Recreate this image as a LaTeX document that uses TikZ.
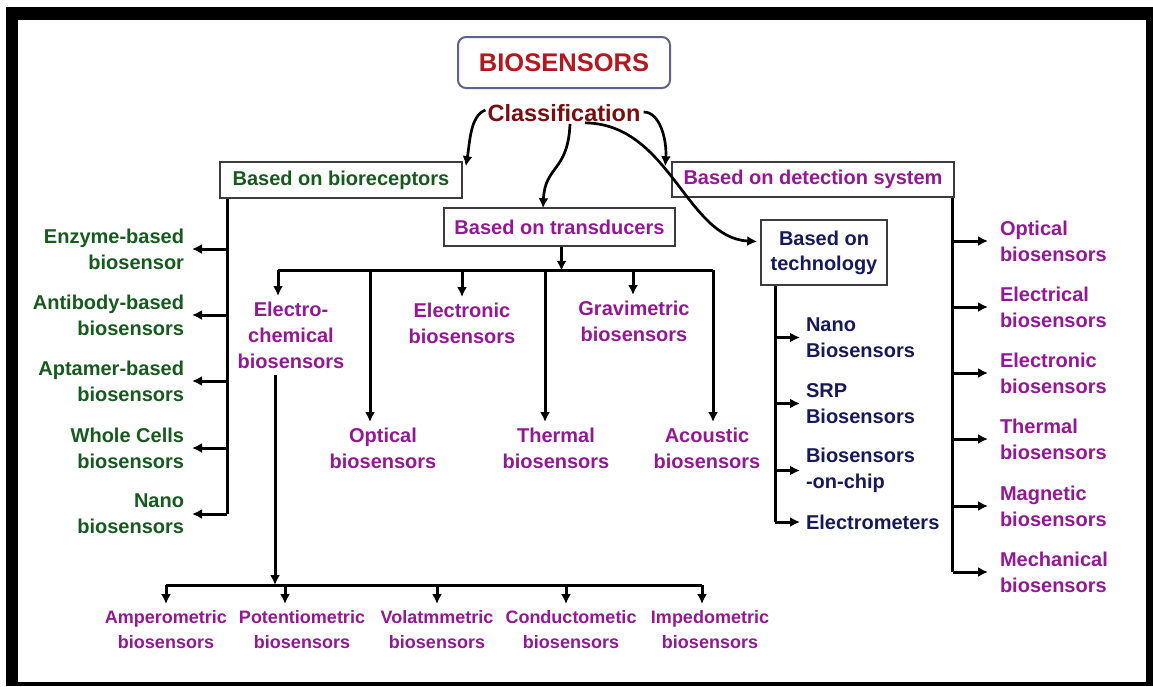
\documentclass[tikz,border=0pt]{standalone}
\usepackage{fontspec}
\setmainfont{Liberation Sans}
\usetikzlibrary{arrows.meta,calc}
\definecolor{titlered}{RGB}{178,24,30}
\definecolor{clsred}{RGB}{120,14,14}
\definecolor{titleframe}{RGB}{95,100,140}
\definecolor{boxgray}{RGB}{60,60,60}
\definecolor{bgreen}{RGB}{22,90,30}
\definecolor{bpurple}{RGB}{148,24,150}
\definecolor{bnavy}{RGB}{22,26,90}
\begin{document}
\begin{tikzpicture}[x=1pt,y=-1pt,
  lbl/.style={inner sep=0pt, font=\fontsize{20}{26}\selectfont\bfseries},
  leftlbl/.style={lbl, text=bgreen, align=right, anchor=east, outer sep=8pt},
  translbl/.style={lbl, text=bpurple, align=center, anchor=north, outer sep=6pt},
  botlbl/.style={inner sep=0pt, font=\fontsize{18}{25}\selectfont\bfseries, text=bpurple, align=center, anchor=north, outer sep=6pt},
  techlbl/.style={lbl, text=bnavy, align=left, anchor=west, outer sep=6pt},
  detlbl/.style={lbl, text=bpurple, align=left, anchor=west, outer sep=12pt},
  catbox/.style={draw=boxgray, line width=1.6pt, fill=white, inner sep=0pt, font=\fontsize{20}{25}\selectfont\bfseries},
  conn/.style={line width=3pt, draw=black},
  arr/.style={conn, -{Latex[length=10pt,width=10pt]}},
  carr/.style={line width=2.7pt, draw=black, -{Latex[length=10pt,width=10pt]}}
]
\useasboundingbox (0,0) rectangle (1153,686);
% frame
\fill[white] (0,0) rectangle (1153,686);
\fill[black] (6,7) rectangle (1153,686);
\fill[white] (18,20) rectangle (1146,682);

% title and classification
\node[draw=titleframe, line width=2pt, rounded corners=8pt, fill=white,
      minimum width=212, minimum height=51, inner sep=0pt,
      font=\fontsize{25.5}{30}\selectfont\bfseries, text=titlered] (title) at (564,62.5) {BIOSENSORS};
\node[inner sep=0pt, font=\fontsize{23.5}{28}\selectfont\bfseries, text=clsred] (cls) at (564,113) {Classification};

% category boxes
\node[catbox, minimum width=242, minimum height=36, text=bgreen] (bio) at (341,180) {Based on bioreceptors};
\node[catbox, minimum width=231, minimum height=38, text=bpurple] (trans) at (559.5,227) {Based on transducers};
\node[catbox, minimum width=282, minimum height=35, text=bpurple] (det) at (813,179.5) {Based on detection system};
\node[catbox, minimum width=126, minimum height=65, text=bnavy, align=center] (tech) at (824,252.5) {Based on\\technology};

% curved arrows from the classification
\draw[carr] ($(cls.west)+(-2,-3)$) .. controls (470,116) and (470,142) .. ($(bio.north east)+(3,5)$);
\draw[carr] ($(cls.south)+(6,2)$) .. controls (568,172) and (545,165) .. ($(trans.north)+(-16.5,1)$);
\draw[carr] ($(cls.east)+(3,-1)$) .. controls (660,112) and (667,140) .. ($(det.north west)+(-6,5)$);
\draw[carr] ($(cls.south)+(21,1)$) .. controls (670,124) and (686,238) .. ($(tech.west)+(-3,-11)$);

% bioreceptor branch
\node[leftlbl] (l1) at (192,249) {Enzyme-based\\biosensor};
\node[leftlbl] (l2) at (192,315) {Antibody-based\\biosensors};
\node[leftlbl] (l3) at (192,381) {Aptamer-based\\biosensors};
\node[leftlbl] (l4) at (192,448) {Whole Cells\\biosensors};
\node[leftlbl] (l5) at (192,514) {Nano\\biosensors};
\coordinate (lt) at ($(bio.south west)+(8,0)$);
\draw[conn] (lt) -- (lt |- l5.east);
\foreach \n in {l1,l2,l3,l4,l5} \draw[arr] (lt |- \n.east) -- (\n.east);

% transducer branch
\node[translbl] (ec) at (291,296) {Electro-\\chemical\\biosensors};
\node[translbl] (eo) at (462,297) {Electronic\\biosensors};
\node[translbl] (gv) at (634,295) {Gravimetric\\biosensors};
\node[translbl] (op) at (383,422) {Optical\\biosensors};
\node[translbl] (th) at (556,422) {Thermal\\biosensors};
\node[translbl] (ac) at (707,422) {Acoustic\\biosensors};
\coordinate (tb) at ($(trans.south)+(2,24)$);
\coordinate (t1) at (278,270);
\coordinate (t2) at (370,270);
\coordinate (t3) at (462,270);
\coordinate (t4) at (545,270);
\coordinate (t5) at (633,270);
\coordinate (t6) at (713,270);
\draw[arr] (trans.south -| tb) -- (tb);
\draw[conn] (t1) -- (t6);
\draw[arr] (t1) -- (t1 |- ec.north);
\draw[arr] (t2) -- (t2 |- op.north);
\draw[arr] (t3) -- (t3 |- eo.north);
\draw[arr] (t4) -- (t4 |- th.north);
\draw[arr] (t5) -- (t5 |- gv.north);
\draw[arr] (t6) -- (t6 |- ac.north);

% electrochemical sub-branch
\node[botlbl] (am) at (166,604) {Amperometric\\biosensors};
\node[botlbl] (po) at (302,604) {Potentiometric\\biosensors};
\node[botlbl] (vo) at (437,604) {Volatmmetric\\biosensors};
\node[botlbl] (co) at (571,604) {Conductometic\\biosensors};
\node[botlbl] (im) at (710,604) {Impedometric\\biosensors};
\coordinate (es) at (275,585);
\coordinate (e1) at (166,585);
\coordinate (e2) at (285,585);
\coordinate (e3) at (437,585);
\coordinate (e4) at (566,585);
\coordinate (e5) at (702,585);
\draw[arr] (ec.south -| es) -- (es);
\draw[conn] (e1) -- (e5);
\draw[arr] (e1) -- (e1 |- am.north);
\draw[arr] (e2) -- (e2 |- po.north);
\draw[arr] (e3) -- (e3 |- vo.north);
\draw[arr] (e4) -- (e4 |- co.north);
\draw[arr] (e5) -- (e5 |- im.north);

% technology branch
\node[techlbl] (n1) at (800,337.5) {Nano\\Biosensors};
\node[techlbl] (n2) at (800,403.5) {SRP\\Biosensors};
\node[techlbl] (n3) at (800,470.5) {Biosensors\\-on-chip};
\node[techlbl] (n4) at (800,522) {Electrometers};
\coordinate (tt) at ($(tech.south west)+(15,0)$);
\draw[conn] (tt) -- (tt |- n4.west);
\foreach \n in {n1,n2,n3,n4} \draw[arr] (tt |- \n.west) -- (\n.west);

% detection system branch
\node[detlbl] (d1) at (988,241) {Optical\\biosensors};
\node[detlbl] (d2) at (988,307) {Electrical\\biosensors};
\node[detlbl] (d3) at (988,373) {Electronic\\biosensors};
\node[detlbl] (d4) at (988,439) {Thermal\\biosensors};
\node[detlbl] (d5) at (988,506) {Magnetic\\biosensors};
\node[detlbl] (d6) at (988,572) {Mechanical\\biosensors};
\coordinate (dt) at ($(det.south east)+(-2,0)$);
\draw[conn] (dt) -- (dt |- d6.west);
\foreach \n in {d1,d2,d3,d4,d5,d6} \draw[arr] (dt |- \n.west) -- (\n.west);
\end{tikzpicture}
\end{document}
